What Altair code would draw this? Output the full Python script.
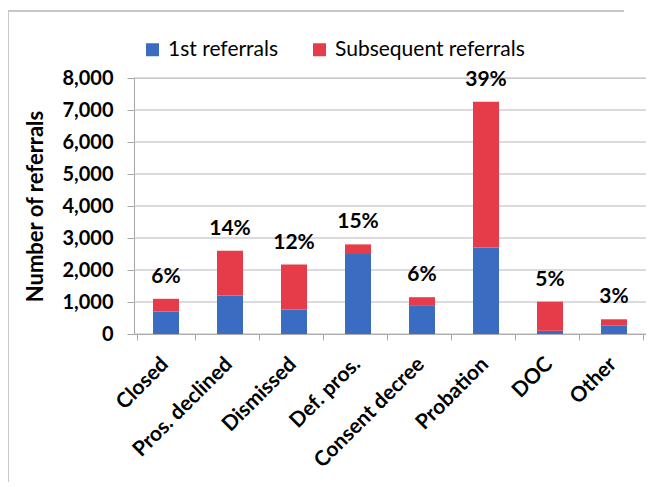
import altair as alt
import pandas as pd

categories = ["Closed", "Pros. declined", "Dismissed", "Def. pros.",
              "Consent decree", "Probation", "DOC", "Other"]
series = ["1st referrals", "Subsequent referrals"]
first_referrals = [700, 1200, 770, 2500, 900, 2700, 100, 270]
subsequent_referrals = [400, 1400, 1400, 300, 250, 4560, 910, 190]
totals = [1100, 2600, 2170, 2800, 1150, 7260, 1010, 460]
pct_labels = ["6%", "14%", "12%", "15%", "6%", "39%", "5%", "3%"]
y_ticks = [0, 1000, 2000, 3000, 4000, 5000, 6000, 7000, 8000]

rows = []
for i, c in enumerate(categories):
    rows.append({"category": c, "series": series[0], "value": first_referrals[i], "ord": 0})
    rows.append({"category": c, "series": series[1], "value": subsequent_referrals[i], "ord": 1})
df = pd.DataFrame(rows)
lab = pd.DataFrame({"category": categories, "total": totals, "pct": pct_labels})
grid_df = pd.DataFrame({"tick": y_ticks})

FONT = "Lato"
BLUE = "#3a6cc2"
RED = "#e63c4a"
Y_TITLE = "Number of referrals"

x_axis = alt.Axis(labelAngle=-45, labelAlign="right", labelBaseline="top",
                  labelFontSize=21, labelFontWeight="bold", labelFont=FONT,
                  labelColor="#000000", tickBand="extent", tickSize=6,
                  tickColor="#a6a6a6", domainColor="#a6a6a6", labelPadding=13,
                  labelOffset=-9, labelLimit=0)
y_axis = alt.Axis(values=y_ticks, format=",.0f", labelFontSize=20, labelFontWeight="bold",
                  labelFont=FONT, labelColor="#000000", tickSize=7, tickColor="#a6a6a6",
                  domainColor="#a6a6a6", grid=False, labelPadding=14,
                  labelOverlap=False, titleFont=FONT, titleFontSize=22, titleFontWeight="bold",
                  titleColor="#000000", titlePadding=14)
y_scale = alt.Scale(domain=[0, 8000], nice=False)

gridlines = alt.Chart(grid_df).mark_rule(color="#b8b4bc", strokeWidth=1).encode(
    y=alt.Y("tick:Q", title=Y_TITLE, scale=y_scale, axis=y_axis),
)

bars = alt.Chart(df).mark_bar(size=26).encode(
    x=alt.X("category:N", sort=categories, title=None, axis=x_axis),
    y=alt.Y("value:Q", stack="zero", title=Y_TITLE, scale=y_scale, axis=y_axis),
    color=alt.Color("series:N", scale=alt.Scale(domain=series, range=[BLUE, RED]),
                    legend=alt.Legend(title=None, orient="none", legendX=8, legendY=-39,
                                      direction="horizontal", symbolType="square",
                                      symbolSize=169, symbolStrokeWidth=0, labelFont=FONT,
                                      labelFontSize=21, labelColor="#000000", labelOffset=5,
                                      columnPadding=30, padding=0, labelLimit=0)),
    order=alt.Order("ord:Q"),
)

texts = alt.Chart(lab).mark_text(baseline="bottom", dy=-12, font=FONT, fontSize=21,
                                 fontWeight="bold", color="#000000").encode(
    x=alt.X("category:N", sort=categories, title=None, axis=x_axis),
    y=alt.Y("total:Q", title=Y_TITLE, scale=y_scale, axis=y_axis),
    text="pct:N",
)

border_top = alt.Chart(lab).mark_rule(color="#c8c8c8", strokeWidth=2).encode(
    x=alt.value(-126), x2=alt.value(490), y=alt.value(-67))
border_left = alt.Chart(lab).mark_rule(color="#c8c8c8", strokeWidth=2).encode(
    x=alt.value(-126), y=alt.value(-67), y2=alt.value(404))

chart = alt.layer(border_top, border_left, gridlines, bars, texts).properties(
    width=512, height=256,
    autosize=alt.AutoSizeParams(type="none"),
    padding={"left": 126, "top": 70, "right": 0, "bottom": 148},
).configure_view(stroke=None).configure(background="#ffffff")

chart.save("out.html", embed_options={"renderer": "svg", "actions": False})
